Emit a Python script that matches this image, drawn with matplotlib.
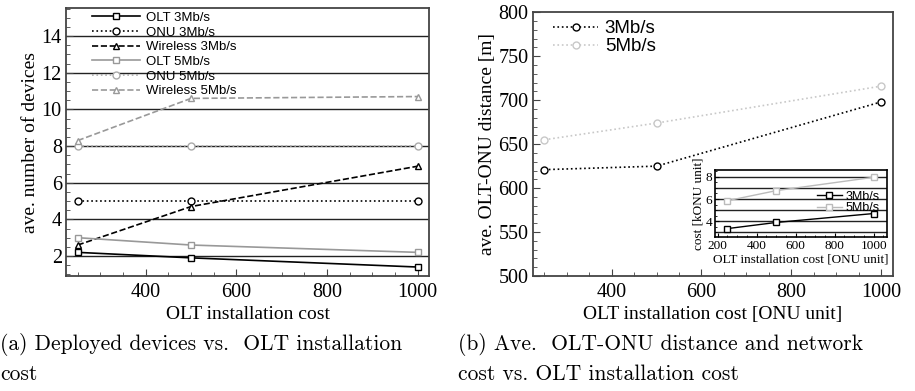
import numpy as np
import matplotlib
matplotlib.use("Agg")
from matplotlib import pyplot as plt
from matplotlib.ticker import MultipleLocator

plt.rcParams["font.family"] = "Liberation Serif"
plt.rcParams["xtick.direction"] = "in"
plt.rcParams["ytick.direction"] = "in"

cost = [250, 500, 1000]

# (a) deployed devices
olt_3 = [2.2, 1.9, 1.4]
onu_3 = [5.0, 5.0, 5.0]
wl_3 = [2.6, 4.7, 6.9]
olt_5 = [3.0, 2.6, 2.2]
onu_5 = [8.0, 8.0, 8.0]
wl_5 = [8.3, 10.6, 10.7]

# (b) OLT-ONU distance
dist_3 = [621, 625, 698]
dist_5 = [655, 674, 716]

# inset: network cost
net_3 = [3.35, 3.9, 4.7]
net_5 = [5.85, 6.75, 7.95]

sans = "Liberation Sans"
frame_col = "#444444"

fig = plt.figure(figsize=(9.15, 3.91), dpi=100)

########################################################################################################################
ax1 = fig.add_axes([0.0721, 0.2941, 0.3968, 0.6854])
for y in range(2, 16, 2):
    ax1.axhline(y, color="#222222", lw=1.0, zorder=1)
ax1.plot(cost, olt_3, "-", color="black", marker="s", ms=5, mfc="white", lw=1.2, label="OLT 3Mb/s", zorder=5)
ax1.plot(cost, onu_3, ":", color="black", marker="o", ms=5, mfc="white", lw=1.2, label="ONU 3Mb/s", zorder=5)
ax1.plot(cost, wl_3, "--", color="black", marker="^", ms=5, mfc="white", lw=1.2, label="Wireless 3Mb/s", zorder=5)
ax1.plot(cost, olt_5, "-", color="#999999", marker="s", ms=5, mfc="white", lw=1.2, label="OLT 5Mb/s", zorder=5)
ax1.plot(cost, onu_5, ":", color="#aaaaaa", marker="o", ms=5, mfc="white", lw=1.2, label="ONU 5Mb/s", zorder=5)
ax1.plot(cost, wl_5, "--", color="#999999", marker="^", ms=5, mfc="white", lw=1.2, label="Wireless 5Mb/s", zorder=5)
ax1.set_xlim(224, 1025)
ax1.set_ylim(0.91, 15.53)
ax1.xaxis.set_major_locator(MultipleLocator(200))
ax1.xaxis.set_minor_locator(MultipleLocator(50))
ax1.yaxis.set_major_locator(MultipleLocator(2))
ax1.yaxis.set_minor_locator(MultipleLocator(0.5))
ax1.tick_params(labelsize=14.5, length=5, color=frame_col, pad=3)
ax1.tick_params(axis="x", pad=5)
ax1.tick_params(which="minor", length=3, color=frame_col)
ax1.set_xlabel("OLT installation cost", fontsize=14, labelpad=3)
ax1.set_ylabel("ave. number of devices", fontsize=14, labelpad=2)
for s in ax1.spines.values():
    s.set_color(frame_col)
    s.set_linewidth(1.3)
leg = ax1.legend(loc="upper left", bbox_to_anchor=(0.04, 1.03), frameon=False, prop={"family": sans, "size": 9.5},
                 handlelength=3.6, labelspacing=0.18, handletextpad=0.5)

########################################################################################################################
ax2 = fig.add_axes([0.5822, 0.2941, 0.3934, 0.6744])
ax2.plot(cost, dist_3, ":", color="black", marker="o", ms=5, mfc="white", lw=1.2, label="3Mb/s")
ax2.plot(cost, dist_5, ":", color="#c8c8c8", marker="o", ms=5, mfc="white", lw=1.2, label="5Mb/s")
ax2.set_xlim(224, 1026)
ax2.set_ylim(500, 800)
ax2.xaxis.set_major_locator(MultipleLocator(200))
ax2.xaxis.set_minor_locator(MultipleLocator(50))
ax2.yaxis.set_major_locator(MultipleLocator(50))
ax2.yaxis.set_minor_locator(MultipleLocator(10))
ax2.tick_params(labelsize=14.5, length=5, color=frame_col, pad=3)
ax2.tick_params(axis="x", pad=5)
ax2.tick_params(which="minor", length=3, color=frame_col)
ax2.set_xlabel("OLT installation cost [ONU unit]", fontsize=14, labelpad=3)
ax2.set_ylabel("ave. OLT-ONU distance [m]", fontsize=14, labelpad=2)
for s in ax2.spines.values():
    s.set_color(frame_col)
    s.set_linewidth(1.3)
ax2.legend(loc="upper left", bbox_to_anchor=(0.01, 1.035), frameon=False, prop={"family": sans, "size": 13.5},
           handlelength=2.4, labelspacing=0.05, handletextpad=0.35)

########################################################################################################################
ax3 = fig.add_axes([0.7814, 0.3931, 0.1877, 0.1721])
for y in range(3, 9):
    ax3.axhline(y, color="#222222", lw=1.0, zorder=1)
ax3.plot(cost, net_3, "-", color="black", marker="s", ms=4.5, mfc="white", lw=1.0, label="3Mb/s", zorder=5)
ax3.plot(cost, net_5, "-", color="#bbbbbb", marker="s", ms=4.5, mfc="white", lw=1.0, label="5Mb/s", zorder=5)
ax3.set_xlim(186, 1067)
ax3.set_ylim(2.57, 8.6)
ax3.xaxis.set_major_locator(MultipleLocator(200))
ax3.xaxis.set_minor_locator(MultipleLocator(50))
ax3.yaxis.set_major_locator(MultipleLocator(2))
ax3.yaxis.set_minor_locator(MultipleLocator(0.5))
ax3.tick_params(labelsize=9.5, length=3, pad=2)
ax3.tick_params(which="minor", length=1.5)
ax3.set_xlabel("OLT installation cost [ONU unit]", fontsize=9.5, labelpad=1)
ax3.set_ylabel("cost [kONU unit]", fontsize=9.5, labelpad=1)
for s in ax3.spines.values():
    s.set_linewidth(1.2)
ax3.legend(loc="center right", bbox_to_anchor=(1.01, 0.52), frameon=False, prop={"family": sans, "size": 9},
           handlelength=2.0, labelspacing=-0.05, handletextpad=0.3, borderpad=0.2)

########################################################################################################################
cap = dict(fontsize=15.5, family="cmr10", va="center")
fig.text(0.0, 0.118, "(a) Deployed devices vs.  OLT installation", **cap)
fig.text(0.0, 0.043, "cost", **cap)
fig.text(0.5005, 0.118, "(b) Ave.  OLT-ONU distance and network", **cap)
fig.text(0.5005, 0.043, "cost vs. OLT installation cost", **cap)

plt.savefig("out.png", dpi=100)
